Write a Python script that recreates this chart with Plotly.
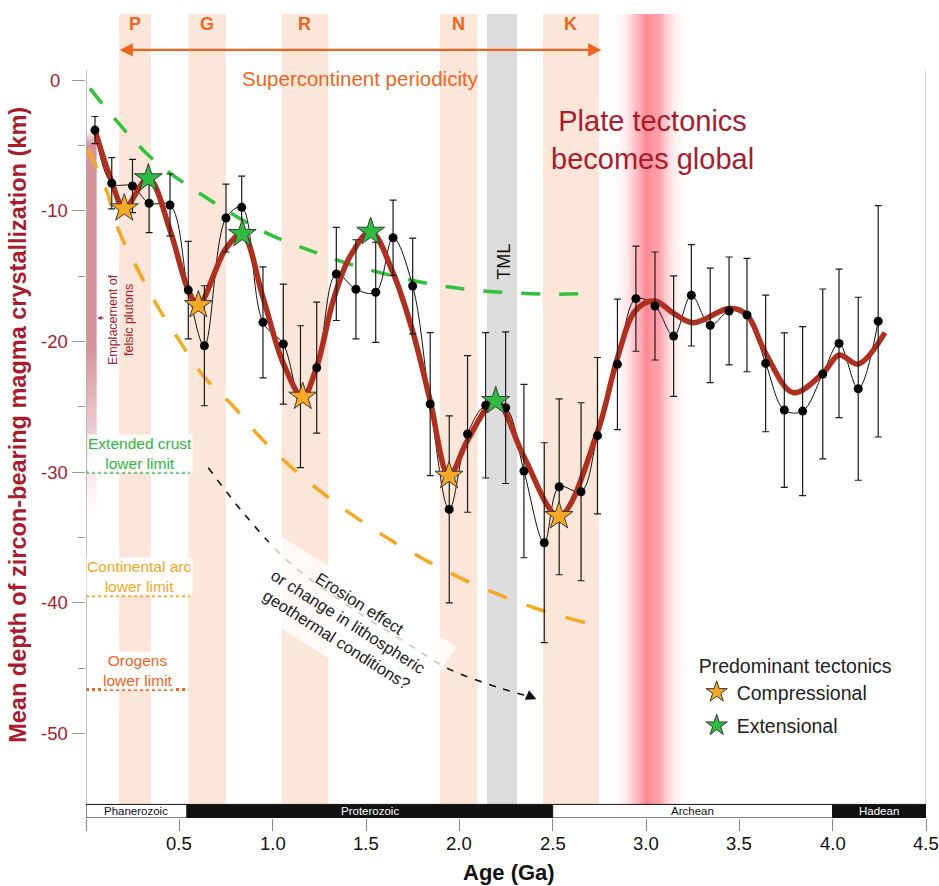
import math
import plotly.graph_objects as go

FONT = "Liberation Sans, Arial, Helvetica, sans-serif"
DARKRED = "#a81c2b"
ORANGE = "#f0641e"
GOLD = "#f5a623"
GREEN = "#2db83d"

# ---------------- data ----------------
age = [0.048, 0.138, 0.249, 0.338, 0.450, 0.548, 0.634, 0.750, 0.834, 0.948,
       1.057, 1.149, 1.236, 1.341, 1.446, 1.552, 1.645, 1.750, 1.844, 1.946,
       2.044, 2.141, 2.248, 2.346, 2.455, 2.535, 2.652, 2.740, 2.847, 2.946,
       3.048, 3.148, 3.243, 3.344, 3.445, 3.541, 3.641, 3.741, 3.839, 3.947,
       4.034, 4.137, 4.244]
depth = [-3.83, -7.90, -8.11, -9.43, -9.56, -16.07, -20.33, -10.56, -9.74, -18.54,
         -20.20, -24.23, -22.01, -14.84, -16.01, -16.24, -12.07, -15.76, -24.79, -32.85,
         -27.08, -24.89, -25.07, -29.92, -35.40, -31.12, -31.50, -27.21, -21.75, -16.73,
         -17.29, -19.59, -16.47, -18.77, -17.67, -17.98, -21.68, -25.25, -25.33, -22.49,
         -20.15, -23.62, -18.46]
err = [1.04, 1.96, 2.04, 2.25, 2.37, 3.73, 4.59, 2.60, 2.39, 4.25,
       4.59, 5.43, 5.01, 3.56, 3.79, 3.83, 2.88, 3.66, 5.47, 7.15,
       5.99, 5.56, 5.80, 6.63, 7.65, 6.73, 6.81, 5.98, 4.99, 4.02,
       4.13, 4.61, 3.88, 4.38, 4.13, 4.34, 5.23, 5.91, 6.47, 6.50,
       5.68, 7.00, 8.85]

smooth_age = [0.048, 0.138, 0.205, 0.334, 0.450, 0.548, 0.602, 0.748, 0.837, 0.947,
              1.057, 1.161, 1.236, 1.325, 1.414, 1.525, 1.646, 1.753, 1.843, 1.945,
              2.045, 2.195, 2.346, 2.534, 2.740, 2.847, 2.946, 3.048, 3.148, 3.253,
              3.450, 3.541, 3.641, 3.789, 3.947, 4.035, 4.137, 4.280]
smooth_depth = [-3.83, -7.78, -9.82, -7.52, -11.48, -16.07, -17.22, -12.93, -11.78, -16.58,
                -21.68, -24.23, -21.94, -16.83, -13.52, -11.61, -14.79, -19.38, -24.48, -30.28,
                -27.54, -24.56, -28.82, -33.36, -26.93, -21.27, -17.60, -16.91, -17.85, -18.57,
                -17.47, -17.98, -20.91, -23.92, -22.44, -21.04, -21.73, -19.33]

comp_age = [0.205, 0.602, 1.161, 1.945, 2.534]
comp_depth = [-9.82, -17.22, -24.23, -30.28, -33.36]
ext_age = [0.334, 0.837, 1.525, 2.195]
ext_depth = [-7.52, -11.78, -11.61, -24.56]

green_age = [0.021, 0.343, 0.664, 0.968, 1.232, 1.436, 1.637, 1.852, 2.066, 2.281, 2.495, 2.716]
green_depth = [-0.64, -5.87, -9.18, -11.71, -13.20, -14.19, -14.96, -15.62, -16.05, -16.28, -16.39, -16.32]

orange_age = [0.011, 0.111, 0.169, 0.272, 0.379, 0.498, 0.632, 0.785, 0.932, 1.096,
              1.275, 1.459, 1.650, 1.848, 2.046, 2.258, 2.470, 2.684]
orange_depth = [-5.36, -8.49, -11.32, -14.35, -17.21, -19.89, -22.69, -24.90, -27.31, -29.57,
                -31.68, -33.59, -35.35, -36.96, -38.37, -39.63, -40.70, -41.55]

arrow_age = [0.655, 0.852, 1.093, 1.414, 1.752, 1.934, 2.218, 2.368]
arrow_depth = [-29.66, -33.28, -36.95, -40.32, -43.38, -44.99, -46.52, -47.13]

band_names = ["P", "G", "R", "N", "K"]
band_start = [0.178, 0.548, 1.048, 1.896, 2.448]
band_end = [0.348, 0.748, 1.298, 2.098, 2.748]
tml_start, tml_end = 2.148, 2.309

limit_names = ["Extended crust<br>lower limit", "Continental arc<br>lower limit", "Orogens<br>lower limit"]
limit_depth = [-30.0, -39.46, -46.62]
limit_end = [0.557, 0.557, 0.548]
limit_colors = [GREEN, GOLD, ORANGE]

eras = ["Phanerozoic", "Proterozoic", "Archean", "Hadean"]
era_start = [0.0, 0.541, 2.5, 4.0]
era_end = [0.541, 2.5, 4.0, 4.5]

x_ticks = [0, 0.5, 1.0, 1.5, 2.0, 2.5, 3.0, 3.5, 4.0, 4.5]
x_tick_text = ["", "0.5", "1.0", "1.5", "2.0", "2.5", "3.0", "3.5", "4.0", "4.5"]
y_ticks = [0, -10, -20, -30, -40, -50]
y_minor_ticks = [-5, -15, -25, -35, -45]

# ---------------- layout geometry ----------------
Y_TOP, Y_BOT = 5.05, -56.46
BAR_TOP = -55.42

fig = go.Figure()
shapes = []
annotations = []

# supercontinent bands
for s, e in zip(band_start, band_end):
    shapes.append(dict(type="rect", xref="x", yref="y", x0=s, x1=e, y0=Y_TOP, y1=BAR_TOP,
                       fillcolor="#fce6d9", line=dict(width=0), layer="below"))
shapes.append(dict(type="rect", xref="x", yref="y", x0=tml_start, x1=tml_end, y0=Y_TOP, y1=BAR_TOP,
                   fillcolor="#dcdcdc", line=dict(width=0), layer="below"))

# red glow band (style gradient)
RED_C, RED_W, STEP = 3.02, 0.095, 0.005
for i in range(100):
    x0 = 2.77 + i * STEP
    xm = x0 + STEP / 2
    a = 0.8 * math.exp(-((xm - RED_C) / RED_W) ** 2)
    if a < 0.01:
        continue
    shapes.append(dict(type="rect", xref="x", yref="y", x0=x0, x1=x0 + STEP * 1.02, y0=Y_TOP, y1=BAR_TOP,
                       fillcolor=f"rgba(255,95,110,{a:.3f})", line=dict(width=0), layer="below"))

# pink felsic pluton bar (style gradient)
PINK = (214, 146, 154)
shapes.append(dict(type="rect", xref="x", yref="y", x0=0.0, x1=0.057, y0=-4.9, y1=-20.5,
                   fillcolor=f"rgb{PINK}", line=dict(width=0), layer="below"))


def pink_seg(y0, y1, frac):
    r = round(255 - (255 - PINK[0]) * frac)
    g = round(255 - (255 - PINK[1]) * frac)
    b = round(255 - (255 - PINK[2]) * frac)
    shapes.append(dict(type="rect", xref="x", yref="y", x0=0.0, x1=0.057, y0=y0, y1=y1,
                       fillcolor=f"rgb({r},{g},{b})", line=dict(width=0), layer="below"))


for k in range(5):
    pink_seg(-3.9 - k * 0.2, -3.9 - (k + 1) * 0.2 - 0.02, (k + 0.5) / 5)
NF = 40
for k in range(NF):
    t = (k + 0.5) / NF
    pink_seg(-20.5 - k * 13.0 / NF, -20.5 - (k + 1) * 13.0 / NF - 0.05, (1 - t) ** 1.2)

# axis frame lines
shapes.append(dict(type="line", xref="x", yref="y", x0=0, x1=0, y0=0.75, y1=Y_BOT,
                   line=dict(color="#b0b0b0", width=1.5), layer="above"))
shapes.append(dict(type="line", xref="x", yref="y", x0=4.5, x1=4.5, y0=0.75, y1=Y_BOT,
                   line=dict(color="#c0c0c0", width=1.2), layer="above"))

# limit lines + labels
for name, d, e, c in zip(limit_names, limit_depth, limit_end, limit_colors):
    fig.add_trace(go.Scatter(x=[0.0, e], y=[d, d], mode="lines",
                             line=dict(color=c, width=3, dash="dot"),
                             showlegend=False, hoverinfo="skip"))
label_y = [-28.6, -37.95, -45.14]
label_x = [0.289, 0.289, 0.276]
for name, lx, ly, c in zip(limit_names, label_x, label_y, limit_colors):
    annotations.append(dict(x=lx, y=ly, xref="x", yref="y", text=name, showarrow=False,
                            font=dict(family=FONT, size=15.5, color=c),
                            bgcolor="rgba(255,255,255,0.85)", borderpad=0,
                            xanchor="center", yanchor="middle"))

# dashed envelope curves
fig.add_trace(go.Scatter(x=green_age, y=green_depth, mode="lines",
                         line=dict(color="#2fc23a", width=3.5, dash="19px,19px", shape="spline"),
                         showlegend=False, hoverinfo="skip"))
fig.add_trace(go.Scatter(x=orange_age, y=orange_depth, mode="lines",
                         line=dict(color="#f7a823", width=3.5, dash="20px,21px", shape="spline"),
                         showlegend=False, hoverinfo="skip"))
fig.add_trace(go.Scatter(x=arrow_age, y=arrow_depth, mode="lines",
                         line=dict(color="#111111", width=1.6, dash="7px,8px", shape="spline"),
                         showlegend=False, hoverinfo="skip"))
annotations.append(dict(x=arrow_age[-1] + 0.045, y=arrow_depth[-1] - 0.25, ax=arrow_age[-1] - 0.01,
                        ay=arrow_depth[-1] + 0.1, xref="x", yref="y", axref="x", ayref="y",
                        text="", showarrow=True, arrowhead=2, arrowsize=1.3, arrowwidth=1.6,
                        arrowcolor="#111111"))

# erosion box + text
shapes.append(dict(type="path", xref="x", yref="y",
                   path="M 1.011 -34.59 L 1.986 -43.36 L 1.763 -48.40 L 0.788 -39.63 Z",
                   fillcolor="rgba(255,255,255,0.78)", line=dict(width=0), layer="above"))
annotations.append(dict(x=1.405, y=-41.4, xref="x", yref="y",
                        text="Erosion effect<br>or change in lithospheric<br>geothermal conditions?",
                        showarrow=False, textangle=32.5,
                        font=dict(family=FONT, size=16.5, color="#222222"),
                        xanchor="center", yanchor="middle"))

# thin interpolating line, smooth red curve, data points
fig.add_trace(go.Scatter(x=age, y=depth, mode="lines",
                         line=dict(color="#111111", width=1, shape="spline", smoothing=1.0),
                         showlegend=False, hoverinfo="skip"))
fig.add_trace(go.Scatter(x=smooth_age, y=smooth_depth, mode="lines",
                         line=dict(color="#b0301f", width=5.5, shape="spline", smoothing=1.0),
                         showlegend=False, hoverinfo="skip"))
fig.add_trace(go.Scatter(x=age, y=depth, mode="markers",
                         marker=dict(color="#000000", size=9),
                         error_y=dict(type="data", array=err, visible=True, color="#1a1a1a",
                                      thickness=1.2, width=3.5),
                         showlegend=False, hoverinfo="skip"))
fig.add_trace(go.Scatter(x=comp_age, y=comp_depth, mode="markers", name="Compressional",
                         marker=dict(symbol="star", size=21, color="#f9a825",
                                     line=dict(color="#3a3a3a", width=1)),
                         legendgroup="c"))
fig.add_trace(go.Scatter(x=ext_age, y=ext_depth, mode="markers", name="Extensional",
                         marker=dict(symbol="star", size=21, color="#2dbb40",
                                     line=dict(color="#3a3a3a", width=1)),
                         legendgroup="e"))

# geologic time scale bar
for i, (name, s, e) in enumerate(zip(eras, era_start, era_end)):
    dark = i % 2 == 1
    shapes.append(dict(type="rect", xref="x", yref="y", x0=s, x1=e, y0=BAR_TOP, y1=Y_BOT,
                       fillcolor="#111111" if dark else "#ffffff",
                       line=dict(color="#111111", width=1), layer="above"))
    annotations.append(dict(x=(s + e) / 2, y=(BAR_TOP + Y_BOT) / 2, xref="x", yref="y",
                            text=name, showarrow=False,
                            font=dict(family=FONT, size=11.5, color="#ffffff" if dark else "#111111"),
                            xanchor="center", yanchor="middle"))

# top labels
for name, s, e in zip(band_names, band_start, band_end):
    annotations.append(dict(x=(s + e) / 2, y=4.28, xref="x", yref="y",
                            text=f"<b>{name}</b>", showarrow=False,
                            font=dict(family=FONT, size=18, color=ORANGE),
                            xanchor="center", yanchor="middle"))
annotations.append(dict(x=2.761, y=2.30, ax=0.1725, ay=2.30, xref="x", yref="y",
                        axref="x", ayref="y", text="", showarrow=True, arrowhead=2,
                        arrowside="end+start", arrowsize=1.2, arrowwidth=2.2, arrowcolor=ORANGE))
annotations.append(dict(x=1.468, y=0.08, xref="x", yref="y", text="Supercontinent periodicity",
                        showarrow=False, font=dict(family=FONT, size=20.5, color=ORANGE),
                        xanchor="center", yanchor="middle"))
annotations.append(dict(x=3.037, y=-4.59, xref="x", yref="y",
                        text="Plate tectonics<br>becomes global", showarrow=False,
                        font=dict(family=FONT, size=29, color=DARKRED),
                        xanchor="center", yanchor="middle"))
annotations.append(dict(x=2.239, y=-13.9, xref="x", yref="y", text="TML", showarrow=False,
                        textangle=-90, font=dict(family=FONT, size=18, color="#111111"),
                        xanchor="center", yanchor="middle"))
annotations.append(dict(x=0.188, y=-18.36, xref="x", yref="y",
                        text="Emplacement of<br>felsic plutons", showarrow=False, textangle=-90,
                        font=dict(family=FONT, size=12.5, color=DARKRED),
                        xanchor="center", yanchor="middle"))
annotations.append(dict(x=0.062, y=-18.2, ax=0.103, ay=-18.2, xref="x", yref="y",
                        axref="x", ayref="y", text="", showarrow=True, arrowhead=2,
                        arrowsize=0.8, arrowwidth=1, arrowcolor=DARKRED))

# tick labels and axis titles
for v in y_ticks:
    annotations.append(dict(x=-0.0375, y=v, xref="paper", yref="y", text=str(v),
                            showarrow=False, font=dict(family=FONT, size=18.5, color=DARKRED),
                            xanchor="center", yanchor="middle"))
for v, t in zip(x_ticks, x_tick_text):
    if t:
        annotations.append(dict(x=v, y=-0.032, xref="x", yref="paper", text=t,
                                showarrow=False, font=dict(family=FONT, size=18.5, color="#111111"),
                                xanchor="center", yanchor="middle"))
annotations.append(dict(x=-0.081, y=0.489, xref="paper", yref="paper",
                        text="<b>Mean depth of zircon-bearing magma crystallization (km)</b>",
                        showarrow=False, textangle=-90,
                        font=dict(family=FONT, size=23.5, color=DARKRED),
                        xanchor="center", yanchor="middle"))
annotations.append(dict(x=0.503, y=-0.0684, xref="paper", yref="paper", text="<b>Age (Ga)</b>",
                        showarrow=False, font=dict(family=FONT, size=22, color="#111111"),
                        xanchor="center", yanchor="middle"))

fig.update_layout(
    width=939, height=886,
    margin=dict(l=86, r=13, t=14, b=68),
    plot_bgcolor="white", paper_bgcolor="white",
    font=dict(family=FONT),
    shapes=shapes, annotations=annotations,
    showlegend=True,
    legend=dict(x=0.727, y=0.212, xanchor="left", yanchor="top",
                bgcolor="rgba(0,0,0,0)", font=dict(family=FONT, size=19.5, color="#222222"),
                title=dict(text="Predominant tectonics", font=dict(family=FONT, size=19.5, color="#222222")),
                tracegroupgap=5, traceorder="grouped"),
    xaxis=dict(range=[0, 4.5], showgrid=False, zeroline=False, showline=False,
               tickmode="array", tickvals=x_ticks, showticklabels=False,
               ticks="outside", ticklen=12, tickcolor="#888888", tickwidth=1),
    yaxis=dict(range=[Y_BOT, Y_TOP], showgrid=False, zeroline=False, showline=False,
               tickmode="array", tickvals=y_ticks, showticklabels=False,
               ticks="outside", ticklen=13, tickcolor="#999999", tickwidth=1,
               minor=dict(tickmode="array", tickvals=y_minor_ticks,
                          ticks="outside", ticklen=7, tickcolor="#999999", tickwidth=1)),
)

fig.write_html("out.html", config={"displayModeBar": False},
               post_script="document.body.style.margin='0';document.body.style.padding='0';"
                           "document.documentElement.style.overflow='hidden';")
